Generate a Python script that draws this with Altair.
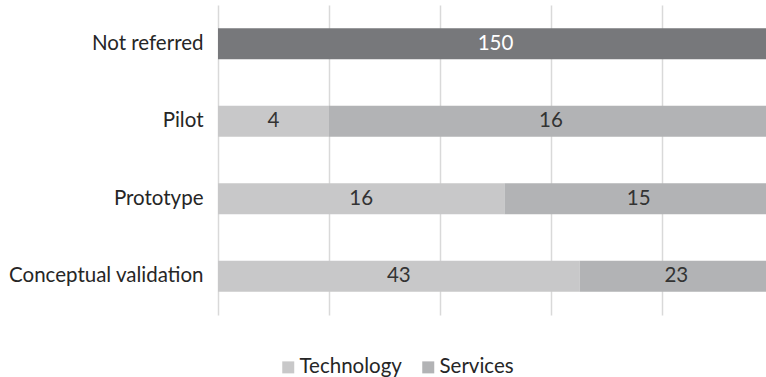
import altair as alt
import pandas as pd

categories = ["Not referred", "Pilot", "Prototype", "Conceptual validation"]
technology = [None, 4, 16, 43]
services = [None, 16, 15, 23]
not_referred = [150, None, None, None]

series_names = ["Technology", "Services", "Not referred"]
colors = ["#c8c8c9", "#b2b3b5", "#77787b"]

rows = []
for i, c in enumerate(categories):
    for o, (s, vals) in enumerate([("Technology", technology), ("Services", services), ("Not referred", not_referred)]):
        v = vals[i]
        if v is not None:
            rows.append({"category": c, "series": s, "value": v, "order": o})
df = pd.DataFrame(rows)

FONT = "Lato"
FS = 20.5

base = alt.Chart(df).transform_stack(
    stack="value",
    groupby=["category"],
    as_=["x0", "x1"],
    offset="normalize",
    sort=[alt.SortField("order", order="ascending")],
).transform_calculate(mid="(datum.x0 + datum.x1) / 2")

y_enc = alt.Y(
    "category:N",
    sort=categories,
    scale=alt.Scale(paddingInner=0.6, paddingOuter=0.3),
    axis=alt.Axis(title=None, domain=False, ticks=False, labelPadding=15, labelLimit=0,
                  labelFontSize=FS, labelFont=FONT, labelColor="#262626"),
)

xscale = alt.Scale(domain=[0, 0.9874], nice=False)

bars = base.mark_bar(clip=True).encode(
    x=alt.X("x0:Q", scale=xscale,
            axis=alt.Axis(title=None, labels=False, ticks=False, domain=False, grid=True,
                          values=[0, 0.2, 0.4, 0.6, 0.8], gridColor="#d9d9d9", gridWidth=1.5)),
    x2="x1:Q",
    y=y_enc,
    color=alt.Color(
        "series:N",
        scale=alt.Scale(domain=series_names, range=colors),
        legend=alt.Legend(values=["Technology", "Services"], orient="none", legendX=60, legendY=352,
                          direction="horizontal", title=None, symbolType="square", symbolSize=144,
                          symbolStrokeWidth=0, labelFontSize=FS, labelFont=FONT, labelColor="#262626",
                          columnPadding=16, labelOffset=1, labelLimit=0),
    ),
)

labels = base.mark_text(fontSize=FS, font=FONT).encode(
    x=alt.X("mid:Q", scale=xscale),
    y=y_enc,
    text="value:Q",
    color=alt.condition(alt.datum.series == "Not referred", alt.value("#ffffff"), alt.value("#333333")),
)

chart = alt.layer(bars, labels).properties(
    width=548, height=310,
    autosize=alt.AutoSizeParams(type="none"),
    padding={"left": 218, "top": 5, "right": 0, "bottom": 62},
).configure_view(stroke=None)

chart.save("out.html", embed_options={"renderer": "svg", "actions": False})
